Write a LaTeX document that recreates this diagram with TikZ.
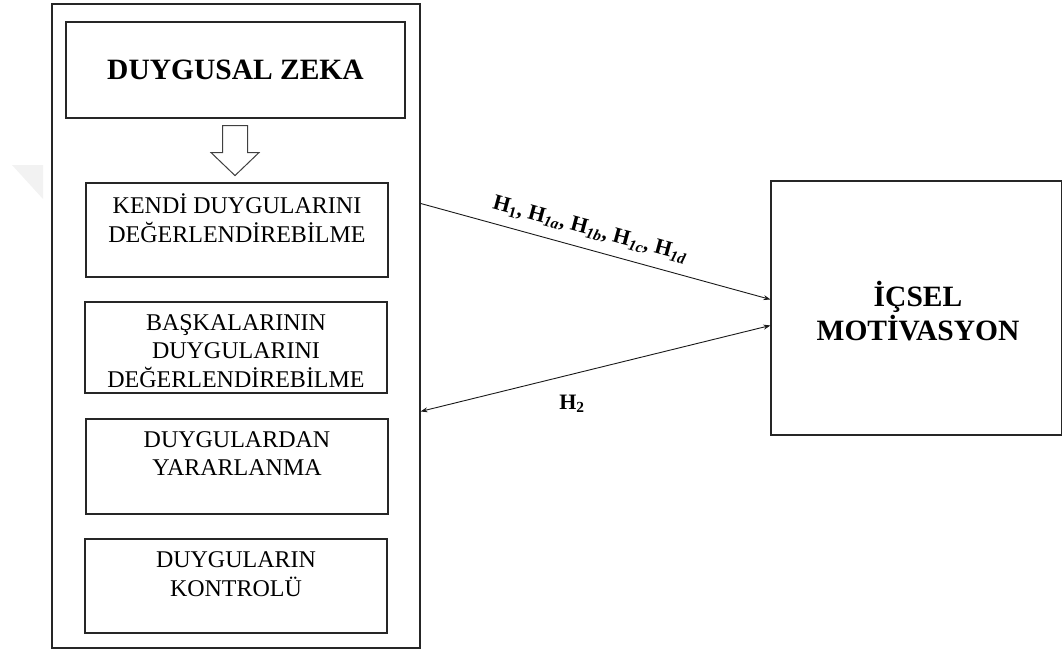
\documentclass[tikz,border=0pt]{standalone}
\usepackage{fontspec}
\setmainfont{Liberation Serif}
\usetikzlibrary{arrows.meta,calc}
\begin{document}
\begin{tikzpicture}[x=1pt,y=-1pt,
  boxline/.style={draw=black!85, line width=1.1pt, fill=white, inner sep=0pt},
  subtext/.style={align=center, font=\fontsize{24}{28.8}\selectfont, inner sep=0pt},
  bigtext/.style={align=center, font=\fontsize{29.5}{34}\selectfont\bfseries, inner sep=0pt},
  conn/.style={draw=black!90, line width=0.9pt},
  tip/.style={-{Stealth[length=7pt,width=5pt]}},
  labtext/.style={font=\fontsize{22}{26}\selectfont\bfseries, inner sep=0pt}
]
\useasboundingbox (0,0) rectangle (1062,651);
% faint watermark
\fill[black!5] (12,165) -- (43,165) -- (43,199) -- cycle;
% outer frame
\node[boxline, minimum width=368pt, minimum height=644pt] (outer) at (236,326) {};
% top box
\node[boxline, minimum width=339pt, minimum height=96pt] (dz) at (235.5,70) {};
\node[bigtext] (dzt) at (dz.center) {DUYGUSAL ZEKA};
% hollow arrow
\coordinate (ha) at ($(dz.south)+(-0.5,7)$);
\draw[draw=black!75, line width=1pt, fill=white, line join=miter]
  ($(ha)+(-12.5,0)$) -- ($(ha)+(12.5,0)$) -- ($(ha)+(12.5,27)$) -- ($(ha)+(24,27)$)
  -- ($(ha)+(0,50)$) -- ($(ha)+(-24,27)$) -- ($(ha)+(-12.5,27)$) -- cycle;
% sub boxes
\node[boxline, minimum width=302pt, minimum height=94pt] (b1) at (237,230) {};
\node[subtext] (t1) at (237,218) {KENDİ DUYGULARINI\\DEĞERLENDİREBİLME};
\node[boxline, minimum width=302pt, minimum height=91pt] (b2) at (236,347.5) {};
\node[subtext] (t2) at (236,351) {BAŞKALARININ\\DUYGULARINI\\DEĞERLENDİREBİLME};
\node[boxline, minimum width=302pt, minimum height=95pt] (b3) at (237,466.5) {};
\node[subtext] (t3) at (237,453.5) {DUYGULARDAN\\YARARLANMA};
\node[boxline, minimum width=302pt, minimum height=94pt] (b4) at (236,586) {};
\node[subtext] (t4) at (236,574) {DUYGULARIN\\KONTROLÜ};
% right box
\node[boxline, minimum width=291pt, minimum height=254pt] (im) at (916.5,308) {};
\node[bigtext] (imt) at (918,311) {İÇSEL\\MOTİVASYON};
% connectors
\coordinate (a1s) at ($(outer.north east)+(0,200)$);
\coordinate (a1e) at ($(im.north west)+(0,119)$);
\coordinate (a2s) at ($(outer.north east)+(0,408)$);
\coordinate (a2e) at ($(im.north west)+(0,145)$);
\draw[conn, tip] (a1s) -- (a1e);
\draw[conn, {Stealth[length=7pt,width=5pt]}-{Stealth[length=7pt,width=5pt]}] (a2s) -- (a2e);
\node[labtext, rotate=-15.3] (l1) at (590,230) {H\textsubscript{1}, H\textsubscript{\textit{1a}}, H\textsubscript{\textit{1b}}, H\textsubscript{\textit{1c}}, H\textsubscript{\textit{1d}}};
\node[labtext] (l2) at (572,404) {H\textsubscript{2}};
\end{tikzpicture}
\end{document}
